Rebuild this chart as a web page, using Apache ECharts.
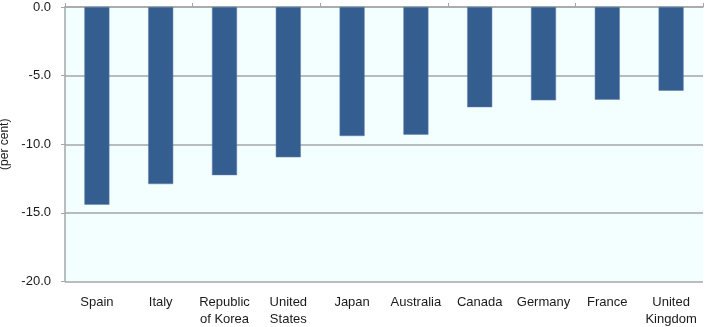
<!DOCTYPE html>
<html>
<head>
<meta charset="utf-8">
<script src="https://cdn.jsdelivr.net/npm/echarts@6/dist/echarts.min.js"></script>
<style>html,body{margin:0;padding:0;background:#fff;}#c{width:707px;height:327px;}</style>
</head>
<body>
<div id="c"></div>
<script>
var categories = ['Spain', 'Italy', 'Republic\nof Korea', 'United\nStates', 'Japan', 'Australia', 'Canada', 'Germany', 'France', 'United\nKingdom'];
var values = [-14.4, -12.9, -12.25, -10.95, -9.4, -9.3, -7.3, -6.8, -6.75, -6.1];
var yTicks = { min: -20, max: 0, interval: 5 };
var yName = '(per cent)';

var chart = echarts.init(document.getElementById('c'));
var grey = '#A6A6A6';
chart.setOption({
  animation: false,
  grid: { left: 65, right: 4, top: 7, bottom: 45.5, show: true, backgroundColor: '#F3FEFE', borderWidth: 0, containLabel: false, outerBoundsMode: 'none' },
  xAxis: [
    { type: 'category', data: categories, position: 'top',
      axisLine: { show: true, onZero: false, lineStyle: { color: grey, width: 1.5 } },
      axisTick: { show: true, inside: false, length: 4, lineStyle: { color: grey } },
      splitLine: { show: false },
      axisLabel: { show: false } },
    { type: 'category', data: categories, position: 'bottom',
      axisLine: { show: false }, axisTick: { show: false }, splitLine: { show: false },
      axisLabel: { show: true, interval: 0, margin: 12, color: '#1a1a1a', fontFamily: 'Liberation Sans, Arial, sans-serif', fontSize: 13, lineHeight: 17, verticalAlign: 'top' } }
  ],
  yAxis: {
    type: 'value', min: yTicks.min, max: yTicks.max, interval: yTicks.interval,
    name: yName, nameLocation: 'middle', nameGap: 47, nameRotate: 90,
    nameTextStyle: { color: '#1a1a1a', fontFamily: 'Liberation Sans, Arial, sans-serif', fontSize: 12 },
    axisLine: { show: true, lineStyle: { color: grey, width: 1.5 } },
    axisTick: { show: true, length: 4, lineStyle: { color: grey } },
    axisLabel: { margin: 14, color: '#1a1a1a', fontFamily: 'Liberation Sans, Arial, sans-serif', fontSize: 13, formatter: function (v) { return v.toFixed(1); } },
    splitLine: { show: true, lineStyle: { color: grey, width: 1.5 } }
  },
  series: [{
    type: 'bar', xAxisIndex: 0, data: values, barWidth: 25,
    itemStyle: { color: '#355E90', borderColor: '#5A7FAA', borderWidth: 0.5 }
  }]
});
</script>
</body>
</html>
